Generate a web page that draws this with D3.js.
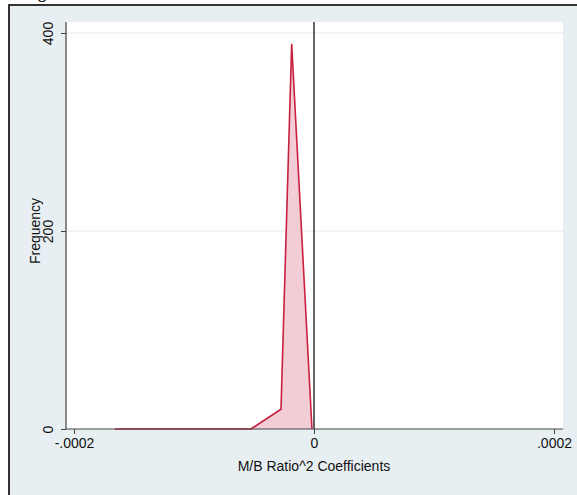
<!DOCTYPE html>
<html>
<head>
<meta charset="utf-8">
<script src="https://cdn.jsdelivr.net/npm/d3@7"></script>
<style>
  html, body { margin: 0; padding: 0; background: #ffffff; }
  svg { display: block; }
  text { font-family: "Liberation Sans", Arial, Helvetica, sans-serif; fill: #111; }
</style>
</head>
<body>
<div id="chart"></div>
<script>
// Frequency polygon of the estimated M/B Ratio^2 coefficients
const coefficients = [-0.0001658, -0.0000525, -0.0000275, -0.0000186, -0.0000017];
const frequencies  = [0, 0, 20, 389, 0];

const xTickValues = [-0.0002, 0, 0.0002];
const xTickLabels = ["-.0002", "0", ".0002"];
const yTickValues = [0, 200, 400];
const yTickLabels = ["0", "200", "400"];

const xTitle = "M/B Ratio^2 Coefficients";
const yTitle = "Frequency";

const W = 577, H = 495;
const plot = { left: 66, right: 563, top: 22, bottom: 429 };

const svg = d3.select("#chart").append("svg")
  .attr("width", W).attr("height", H);

// graph region
svg.append("rect")
  .attr("x", 9).attr("y", 5).attr("width", W).attr("height", H)
  .attr("fill", "#e8eff2")
  .attr("stroke", "#333333").attr("stroke-width", 2);

// clipped heading descender above the frame
svg.append("text")
  .attr("x", 38).attr("y", -2)
  .style("font-family", "'Liberation Serif', 'DejaVu Serif', serif")
  .style("font-weight", "bold").style("font-size", "16px")
  .text("g");

// plot region
svg.append("rect")
  .attr("x", plot.left).attr("y", plot.top)
  .attr("width", plot.right - plot.left).attr("height", plot.bottom - plot.top)
  .attr("fill", "#ffffff");

const x = d3.scaleLinear()
  .domain([-0.0002, 0.0002])
  .range([74, 554]);
const y = d3.scaleLinear()
  .domain([0, 400])
  .range([plot.bottom, 33]);

// horizontal grid lines
svg.append("g").selectAll("line")
  .data(yTickValues.filter(v => v > 0))
  .join("line")
  .attr("x1", plot.left).attr("x2", plot.right)
  .attr("y1", d => y(d)).attr("y2", d => y(d))
  .attr("stroke", "#e3ecef").attr("stroke-width", 1.2);

// polygon
const pts = coefficients.map((c, i) => [c, frequencies[i]]);
const area = d3.area()
  .x(d => x(d[0]))
  .y0(y(0))
  .y1(d => y(d[1]));
const line = d3.line()
  .x(d => x(d[0]))
  .y(d => y(d[1]));

svg.append("path")
  .datum(pts)
  .attr("d", area)
  .attr("fill", "#f2cdd5");
svg.append("path")
  .datum(pts)
  .attr("d", line)
  .attr("fill", "none")
  .attr("stroke", "#c8203f")
  .attr("stroke-width", 1.6)
  .attr("stroke-linejoin", "miter");

// reference line at zero
svg.append("line")
  .attr("x1", x(0)).attr("x2", x(0))
  .attr("y1", plot.top).attr("y2", plot.bottom)
  .attr("stroke", "#111").attr("stroke-width", 1.3);

// x axis
const xAxis = d3.axisBottom(x)
  .tickValues(xTickValues)
  .tickFormat((d, i) => xTickLabels[i])
  .tickSize(5).tickPadding(4);
const gx = svg.append("g")
  .attr("transform", `translate(0,${plot.bottom})`)
  .call(xAxis);
gx.select(".domain").attr("d", `M${plot.left},0H${plot.right}`)
  .attr("stroke", "#444").attr("stroke-width", 1.2);
gx.selectAll(".tick line").attr("stroke", "#444");
gx.selectAll(".tick text")
  .style("font-size", "14px").attr("fill", "#111")
  .style("font-family", "'Liberation Sans', Arial, sans-serif");

// y axis
const yAxis = d3.axisLeft(y)
  .tickValues(yTickValues)
  .tickFormat((d, i) => yTickLabels[i])
  .tickSize(5).tickPadding(4);
const gy = svg.append("g")
  .attr("transform", `translate(${plot.left},0)`)
  .call(yAxis);
gy.select(".domain").attr("d", `M0,${plot.top}V${plot.bottom}`)
  .attr("stroke", "#444").attr("stroke-width", 1.2);
gy.selectAll(".tick line").attr("stroke", "#444");
gy.selectAll(".tick text")
  .attr("x", null).attr("dy", null)
  .attr("text-anchor", "middle")
  .attr("transform", "translate(-13,0) rotate(-90)")
  .attr("y", 0)
  .style("font-size", "14px").attr("fill", "#111")
  .style("font-family", "'Liberation Sans', Arial, sans-serif");

// axis titles
svg.append("text")
  .attr("x", x(0)).attr("y", 471)
  .attr("text-anchor", "middle")
  .style("font-size", "14px")
  .text(xTitle);
svg.append("text")
  .attr("transform", `translate(40,${y(200)}) rotate(-90)`)
  .attr("text-anchor", "middle")
  .style("font-size", "14px")
  .text(yTitle);
</script>
</body>
</html>
